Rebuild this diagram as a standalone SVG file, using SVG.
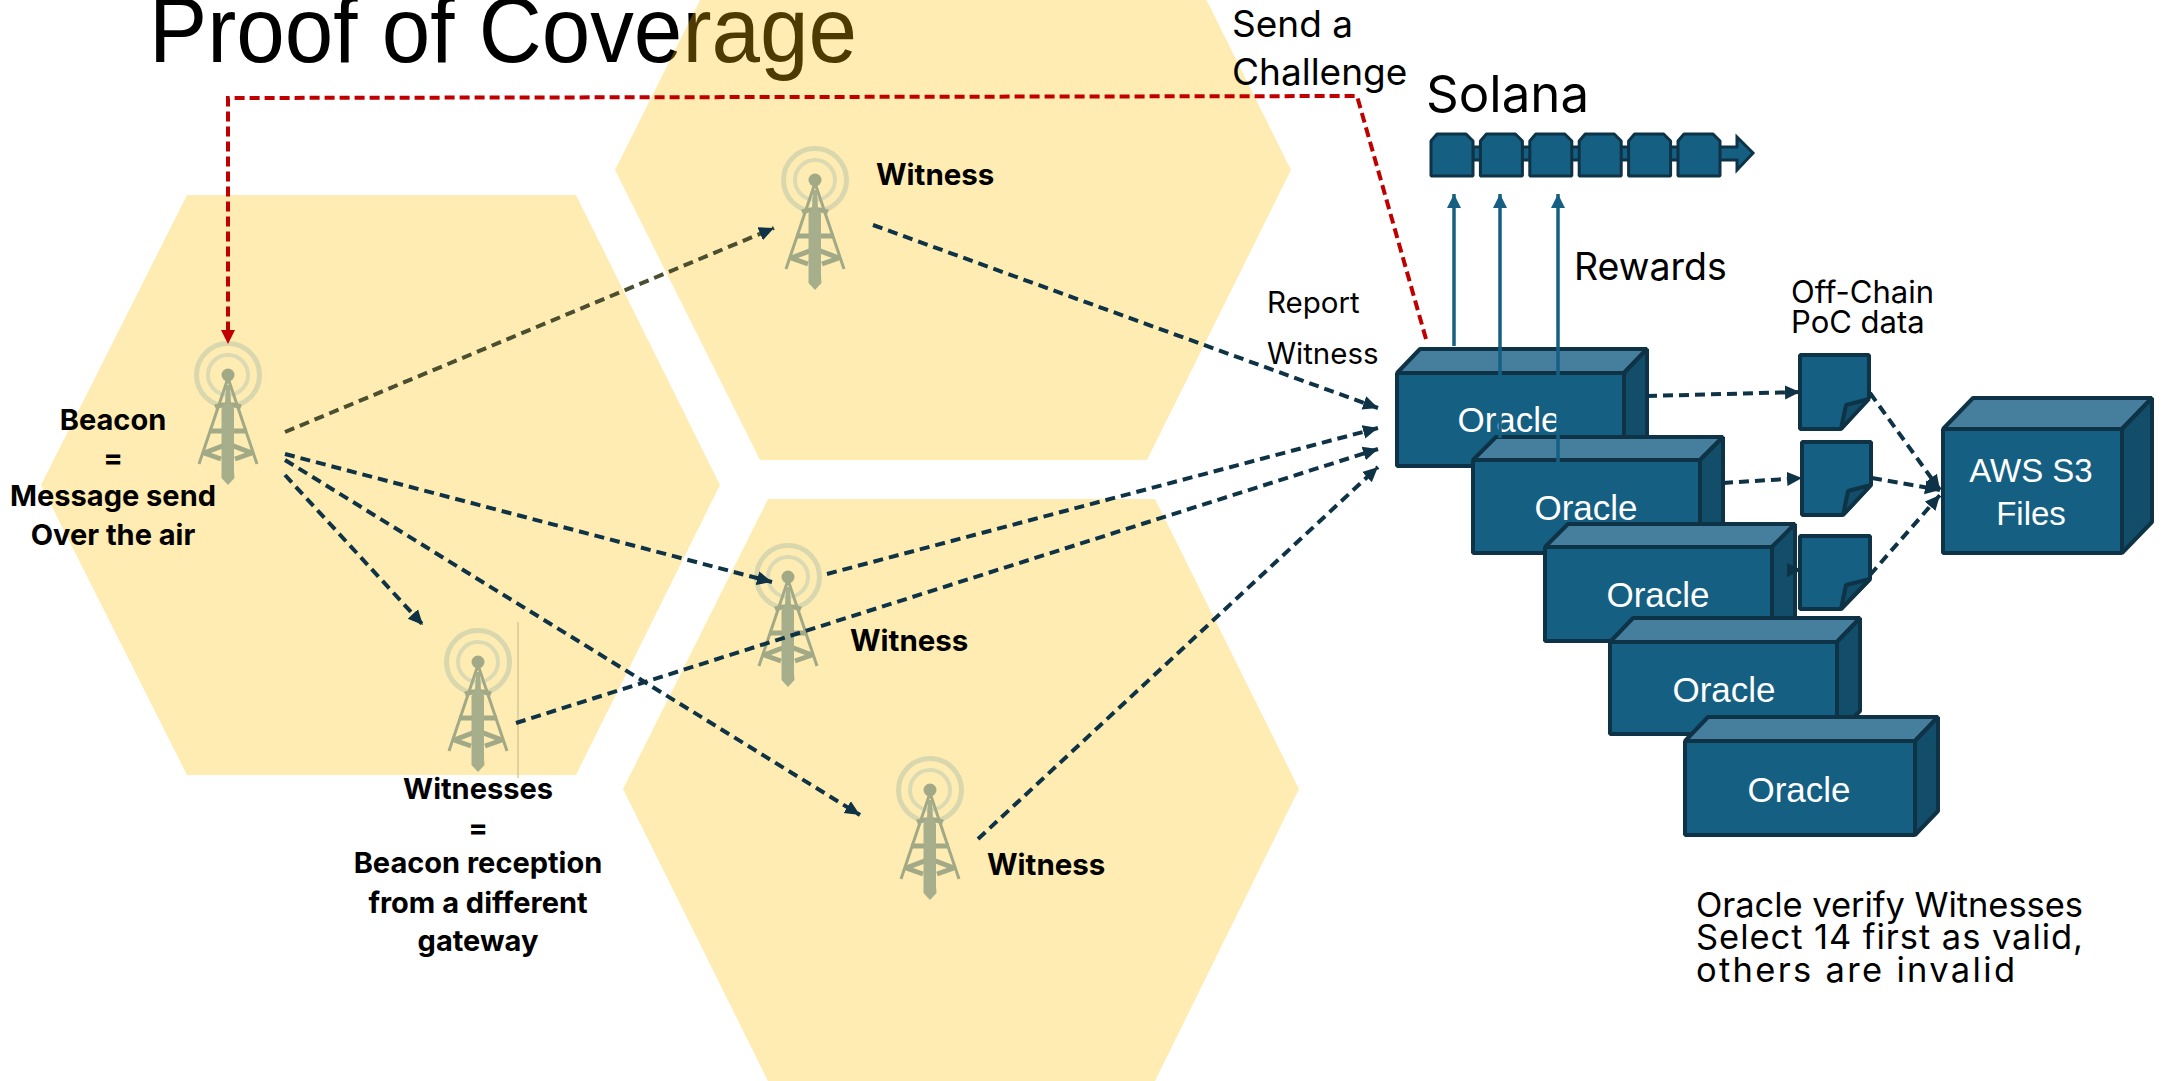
<svg xmlns="http://www.w3.org/2000/svg" width="2167" height="1081" viewBox="0 0 2167 1081">
<style>
text{font-family:Inter,"Liberation Sans",sans-serif;fill:#000}
.b{font-weight:700;font-size:29px;text-anchor:middle}
.w{font-weight:700;font-size:29.500px}
.o{font-size:35px;fill:#fff;text-anchor:middle;font-family:"Liberation Sans",sans-serif}
.hex{fill:#ffc000;opacity:.3}
.d{fill:none;stroke:#0f3346;stroke-width:4;stroke-dasharray:10 6;marker-end:url(#ah)}
.r{fill:none;stroke:#c00000;stroke-width:4;stroke-dasharray:10 5}
.u{fill:none;stroke:#156082;stroke-width:3.500}
.f{fill:#156082;stroke:#0f3346;stroke-width:4;stroke-linejoin:bevel}
.l{fill:#467f9e;stroke:#0f3346;stroke-width:4;stroke-linejoin:bevel}
.s{fill:#124d69;stroke:#0f3346;stroke-width:4;stroke-linejoin:bevel}
.tk{fill:none;stroke:#a2a987}
</style>
<defs>
<marker id="ah" markerUnits="userSpaceOnUse" markerWidth="18" markerHeight="16" refX="15" refY="8" orient="auto"><path d="M0 1L15 8L0 15Z" fill="#0f3346"/></marker>
<marker id="ahu" markerUnits="userSpaceOnUse" markerWidth="16" markerHeight="16" refX="14" refY="7" orient="auto"><path d="M0 0L14 7L0 14Z" fill="#156082"/></marker>
<symbol id="tower" overflow="visible">
<circle r="31.500" fill="none" stroke="#d9d7ae" stroke-width="5"/>
<circle r="20" fill="none" stroke="#dcdab3" stroke-width="4"/>
<circle r="6.500" fill="#a2a987"/>
<path class="tk" stroke-width="3" d="M0 3L-29 89M0 3L29 89"/>
<path class="tk" stroke-width="5" d="M-13 32Q0 27 13 32M-19 56H19"/>
<path class="tk" stroke-width="5" d="M-24 78L0 69L24 78M-24 78L-7 84M24 78L7 84"/>
<path fill="#a7ae8c" d="M-2 10H2L3 28L6 34V96L6.500 103L0 110L-6.500 103V34L-3 28Z"/>
</symbol>
</defs>
<text x="149" y="62" font-size="92" style="font-family:'Liberation Sans',sans-serif" textLength="708" lengthAdjust="spacingAndGlyphs">Proof of Coverage</text>
<g id="hex-left"><path class="hex" d="M187 195H576L720 485L576 775H187L41 485Z"/></g>
<g id="hex-top"><path class="hex" d="M760 -120H1147L1291 170L1147 460H760L615 170Z"/></g>
<g id="hex-bottom"><path class="hex" d="M768 499H1155L1299 789L1155 1081H768L623 789Z"/></g>
<path d="M518 622V778" stroke="#d8c89a" stroke-width="1.500" fill="none"/>
<g id="tower-beacon"><use href="#tower" x="228" y="375"/></g>
<g id="tower-witness-top"><use href="#tower" x="815" y="180"/></g>
<g id="tower-witness-mid"><use href="#tower" x="788" y="577"/></g>
<g id="tower-witnesses"><use href="#tower" x="478" y="662"/></g>
<g id="tower-witness-low"><use href="#tower" x="930" y="790"/></g>
<g id="labels">
<text class="b" x="113" y="430">Beacon</text>
<text class="b" x="113" y="468">=</text>
<text class="b" x="113" y="506">Message send</text>
<text class="b" x="113" y="545">Over the air</text>
<text class="w" x="876" y="185">Witness</text>
<text class="w" x="850" y="651">Witness</text>
<text class="w" x="987" y="875">Witness</text>
<text class="b" x="478" y="799">Witnesses</text>
<text class="b" x="478" y="838">=</text>
<text class="b" x="478" y="873">Beacon reception</text>
<text class="b" x="478" y="913">from a different</text>
<text class="b" x="478" y="951">gateway</text>
<text x="1232" y="37" font-size="37">Send a</text>
<text x="1232" y="85" font-size="37">Challenge</text>
<text x="1426" y="112" font-size="51">Solana</text>
<text x="1574" y="280" font-size="37.500">Rewards</text>
<text x="1267" y="313" font-size="29.500">Report</text>
<text x="1267" y="364" font-size="29.500">Witness</text>
<text x="1791" y="303" font-size="31">Off-Chain</text>
<text x="1791" y="333" font-size="31">PoC data</text>
<text x="1696" y="917" font-size="34.500" textLength="387">Oracle verify Witnesses</text>
<text x="1696" y="949" font-size="34.500" textLength="387">Select 14 first as valid,</text>
<text x="1696" y="982" font-size="34.500" textLength="319">others are invalid</text>
</g>
<g id="oracle-1"><path class="f" d="M1397 373H1624V466H1397Z"/><path class="l" d="M1397 373L1420 349H1647L1624 373Z"/><path class="s" d="M1624 373L1647 349V442L1624 466Z"/><text class="o" x="1509" y="432">Oracle</text></g>
<g id="oracle-2"><path class="f" d="M1473 460H1700V553H1473Z"/><path class="l" d="M1473 460L1496 437H1723L1700 460Z"/><path class="s" d="M1700 460L1723 437V530L1700 553Z"/><text class="o" x="1586" y="520">Oracle</text></g>
<g id="oracle-3"><path class="f" d="M1545 547H1772V641H1545Z"/><path class="l" d="M1545 547L1568 524H1795L1772 547Z"/><path class="s" d="M1772 547L1795 524V618L1772 641Z"/><text class="o" x="1658" y="607">Oracle</text></g>
<g id="oracle-4"><path class="f" d="M1610 642H1837V734H1610Z"/><path class="l" d="M1610 642L1633 618H1860L1837 642Z"/><path class="s" d="M1837 642L1860 618V711L1837 734Z"/><text class="o" x="1724" y="702">Oracle</text></g>
<g id="oracle-5"><path class="f" d="M1685 741H1915V835H1685Z"/><path class="l" d="M1685 741L1708 717H1938L1915 741Z"/><path class="s" d="M1915 741L1938 717V811L1915 835Z"/><text class="o" x="1799" y="802">Oracle</text></g>
<g id="aws-s3"><path class="f" d="M1943 429H2122V553H1943Z"/><path class="l" d="M1943 429L1973 398H2152L2122 429Z"/><path class="s" d="M2122 429L2152 398V522L2122 553Z"/><text class="o" x="2031" y="482" style="font-size:33px">AWS S3</text><text class="o" x="2031" y="525" style="font-size:33px">Files</text></g>
<g id="connectors">
<path class="d" d="M285 432L774 228" style="stroke:#4a4f2f"/>
<path class="d" d="M285 454L772 582"/>
<path class="d" d="M285 460L860 815"/>
<path class="d" d="M285 475L423 625"/>
<path class="d" d="M873 225L1378 408"/>
<path class="d" d="M827 574L1378 428"/>
<path class="d" d="M516 723L1378 449"/>
<path class="d" d="M978 839L1378 467"/>
<path class="r" d="M1426 339L1357 96L228 98V340"/>
<path d="M221 330H235L228 344Z" fill="#c00000"/>
<path class="u" d="M1454 346V194" marker-end="url(#ahu)"/>
<path class="u" d="M1500 438V194" marker-end="url(#ahu)"/>
<path class="u" d="M1558 462V194" marker-end="url(#ahu)"/>
<path class="d" d="M1647 396L1800 392"/>
<path class="d" d="M1723 483L1802 478"/>
<path class="d" d="M1795 570L1802 570"/>
<path class="d" d="M1870 393L1940 490"/>
<path class="d" d="M1872 478L1940 490"/>
<path class="d" d="M1870 575L1940 495"/>
</g>
<g id="doc-1"><path class="f" d="M1800 355H1869V398L1841 429H1800Z"/><path class="s" d="M1869 399L1846 405L1841 429Z"/></g>
<g id="doc-2"><path class="f" d="M1802 442H1871V485L1843 515H1802Z"/><path class="s" d="M1871 485L1848 491L1843 515Z"/></g>
<g id="doc-3"><path class="f" d="M1800 536H1870V579L1841 609H1800Z"/><path class="s" d="M1870 579L1846 585L1841 609Z"/></g>
<g id="solana-chain">
<path d="M1473 147H1737V137L1753 153L1737 170V160H1473Z" fill="#156082" stroke="#0f3346" stroke-width="3"/>
<path id="b" class="f" style="stroke-width:3" d="M1431 141L1437 134H1466L1473 141V176H1431Z"/>
<use href="#b" x="49.400"/><use href="#b" x="98.800"/><use href="#b" x="148.200"/><use href="#b" x="197.600"/><use href="#b" x="247"/>
</g>
</svg>
